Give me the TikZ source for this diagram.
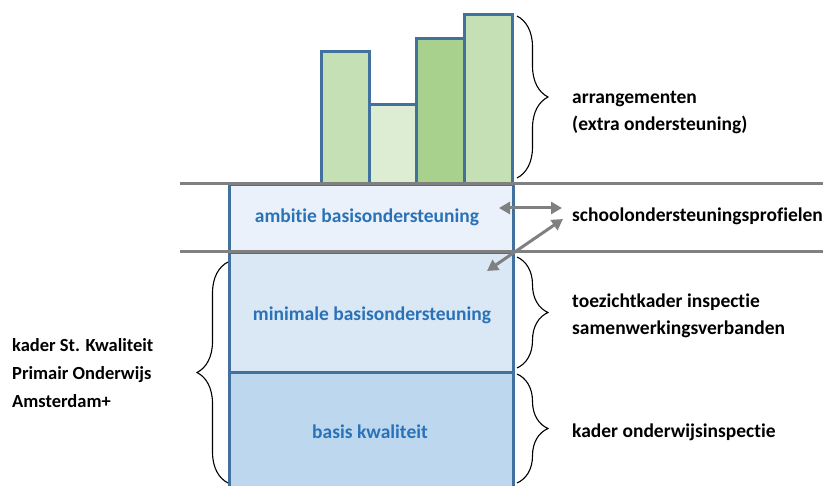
\documentclass[tikz,border=0pt]{standalone}
\usepackage{fontspec}
\setmainfont{Carlito}[Ligatures=NoCommon]
\usetikzlibrary{arrows.meta,decorations.pathreplacing}
\definecolor{edgeblue}{HTML}{41719C}
\definecolor{txtblue}{HTML}{2A72B8}
\definecolor{gA}{HTML}{C5E0B4}
\definecolor{gB}{HTML}{DCEDD3}
\definecolor{gC}{HTML}{A9D18E}
\definecolor{bA}{HTML}{EAF1FA}
\definecolor{bB}{HTML}{DAE7F5}
\definecolor{bC}{HTML}{BDD7EE}
\definecolor{lgray}{HTML}{808080}
\tikzset{
  bar/.style={draw=edgeblue, line width=3pt, anchor=north west, minimum width=48pt, inner sep=0pt},
  layer/.style={draw=edgeblue, line width=2.5pt, anchor=north west, minimum width=284pt, inner sep=0pt},
  intext/.style={text=txtblue, font=\bfseries\fontsize{19.5}{24}\selectfont, inner sep=0pt},
  sepline/.style={lgray, line width=3pt},
  garrow/.style={lgray, line width=3pt, {Triangle[length=11pt,width=12pt]}-{Triangle[length=11pt,width=12pt]}},
  brc/.style={draw=black, line width=1.1pt, decorate, decoration={brace, amplitude=31pt, aspect=0.5}},
  lbl/.style={anchor=west, align=left, inner sep=0pt, font=\bfseries\fontsize{19.5}{27}\selectfont}
}
\begin{document}
\begin{tikzpicture}[x=1pt,y=-1pt]
\useasboundingbox (0,0) rectangle (827,486);
% bars
\node[bar, fill=gA, minimum height=133pt] (b1) at (320,50) {};
\node[bar, fill=gB, minimum height=80pt] (b2) at (368,103) {};
\node[bar, fill=gC, minimum height=146pt] (b3) at (415,37) {};
\node[bar, fill=gA, minimum height=170pt] (b4) at (463,13) {};
% layers
\node[layer, fill=bA, minimum height=68pt] (amb) at (228,184) {};
\node[layer, fill=bB, minimum height=119pt] (min) at (228,252) {};
\node[layer, fill=bC, minimum height=120pt] (bas) at (228,371) {};
\node[intext] (tamb) at (367,217) {ambitie basisondersteuning};
\node[intext] (tmin) at (372,315) {minimale basisondersteuning};
\node[intext] (tbas) at (370,432) {basis kwaliteit};
% separator lines
\coordinate (s1a) at (180,184);
\coordinate (s1b) at (823,184);
\coordinate (s2a) at (180,252);
\coordinate (s2b) at (823,252);
\draw[sepline] (s1a) -- (s1b);
\draw[sepline] (s2a) -- (s2b);
% labels
\node[lbl] (arr) at (572,113) {arrangementen\\(extra ondersteuning)};
\node[lbl] (sop) at (572,216) {schoolondersteuningsprofielen};
\node[lbl] (toe) at (572,316) {toezichtkader inspectie\\samenwerkingsverbanden};
\node[lbl] (kon) at (572,432) {kader onderwijsinspectie};
\node[lbl, font=\bfseries\fontsize{18.5}{28}\selectfont] (kst) at (12,373) {kader St. Kwaliteit\\Primair Onderwijs\\Amsterdam+};
% braces
\coordinate (r1t) at (517,16);
\coordinate (r1b) at (517,178);
\coordinate (r2t) at (517,257);
\coordinate (r2b) at (517,368);
\coordinate (r3t) at (517,374);
\coordinate (r3b) at (517,483);
\coordinate (l1t) at (228,262);
\coordinate (l1b) at (228,483);
\draw[brc] (r1t) -- (r1b);
\draw[brc] (r2t) -- (r2b);
\draw[brc] (r3t) -- (r3b);
\draw[brc] (l1b) -- (l1t);
% arrows
\coordinate (h1) at (499,208);
\coordinate (h2) at (562,208);
\coordinate (d1) at (563,219);
\coordinate (d2) at (487,271);
\draw[garrow] (h1) -- (h2);
\draw[garrow] (d1) -- (d2);
\end{tikzpicture}
\end{document}
